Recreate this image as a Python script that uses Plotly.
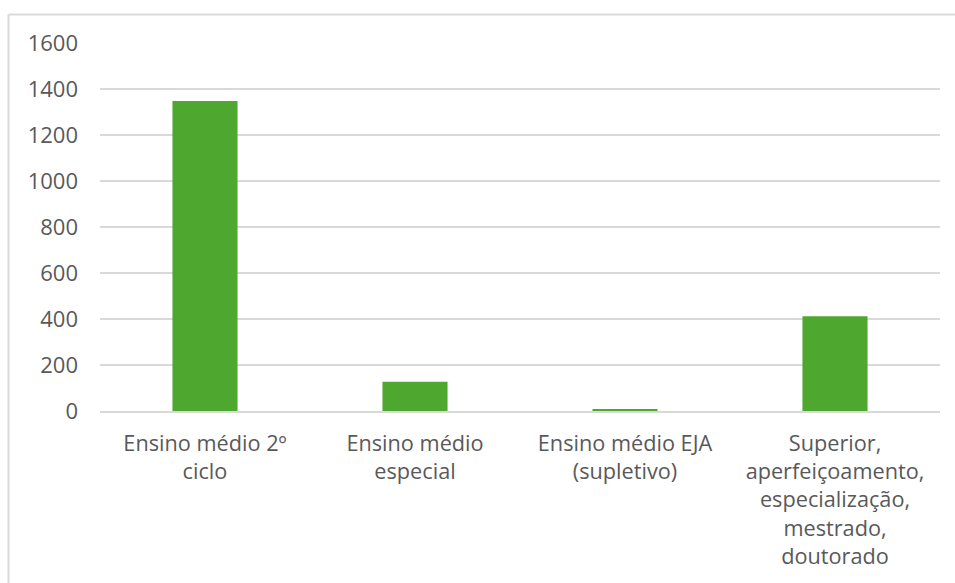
import plotly.graph_objects as go

# Categories and counts
categories = [
    "Ensino médio 2º<br>ciclo",
    "Ensino médio<br>especial",
    "Ensino médio EJA<br>(supletivo)",
    "Superior,<br>aperfeiçoamento,<br>especialização,<br>mestrado,<br>doutorado",
]
values = [1348, 127, 9, 412]
y_ticks = [0, 200, 400, 600, 800, 1000, 1200, 1400, 1600]

W, H = 955, 583
L, R, T, B = 100, 15, 43, 172
plot_w = W - L - R
plot_h = H - T - B

def px_to_paper_x(px):
    return (px - L) / plot_w

def px_to_paper_y(py):
    return (H - B - py) / plot_h

text_color = "#595959"
grid_color = "#d9d9d9"
font_family = "Open Sans, Liberation Sans, Arial, sans-serif"

fig = go.Figure(
    go.Bar(
        x=categories,
        y=values,
        marker=dict(color="#4ea72e", line=dict(width=0)),
        hoverinfo="x+y",
    )
)

fig.update_layout(
    width=W,
    height=H,
    margin=dict(l=L, r=R, t=T, b=B, autoexpand=False),
    paper_bgcolor="white",
    plot_bgcolor="white",
    bargap=0.69,
    showlegend=False,
    font=dict(family=font_family, size=21, color=text_color),
    xaxis=dict(
        type="category",
        showgrid=False,
        showline=True,
        linecolor=grid_color,
        linewidth=2,
        ticks="",
        tickangle=0,
        ticklabelstandoff=12,
        tickfont=dict(size=21.7, color=text_color),
    ),
    yaxis=dict(
        range=[0, 1600],
        tickvals=y_ticks,
        ticktext=[str(v) for v in y_ticks],
        showgrid=True,
        gridcolor=grid_color,
        gridwidth=2,
        zeroline=False,
        showline=False,
        ticks="",
        ticklabelstandoff=21,
        tickfont=dict(size=22, color=text_color),
    ),
    shapes=[
        # chart frame (top and left edges visible)
        dict(type="line", xref="paper", yref="paper",
             x0=px_to_paper_x(8.5), x1=px_to_paper_x(W + 5),
             y0=px_to_paper_y(14.5), y1=px_to_paper_y(14.5),
             line=dict(color=grid_color, width=2), layer="below"),
        dict(type="line", xref="paper", yref="paper",
             x0=px_to_paper_x(8.5), x1=px_to_paper_x(8.5),
             y0=px_to_paper_y(14.5), y1=px_to_paper_y(H + 5),
             line=dict(color=grid_color, width=2), layer="below"),
    ],
)

fig.write_html("out.html")
